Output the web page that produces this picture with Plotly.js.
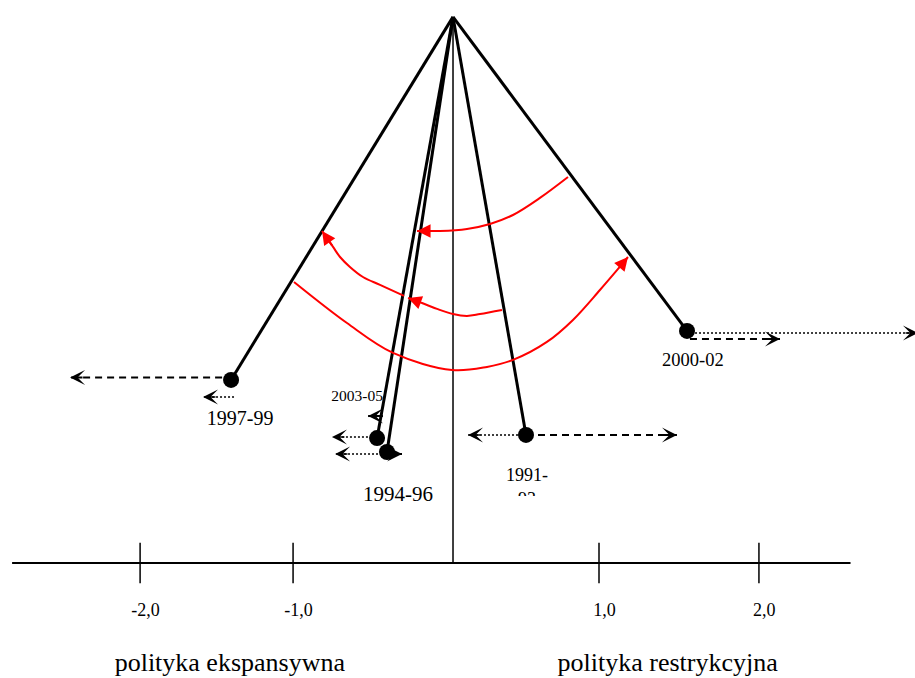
<!DOCTYPE html>
<html><head><meta charset="utf-8">
<script src="https://cdn.plot.ly/plotly-3.0.1.min.js"></script>
<style>html,body{margin:0;padding:0;background:#fff}#chart{width:915px;height:678px}</style>
</head><body><div id="chart"></div>
<script>
// ---------------- data ----------------
const pivotX = 0, pivotY = 3.523;
const periods = ['1997-99', '2003-05', '1994-96', '1991-93', '2000-02'];
const periodLabels = ['1997-99', '2003-05', '1994-96', '1991-<br>93', '2000-02'];
const bobX = [-1.432, -0.490, -0.426, 0.471, 1.510];
const bobY = [1.181, 0.806, 0.716, 0.826, 1.497];

// horizontal arrows: start x, end x, y, line style
const arrowPeriod = ['1997-99', '1997-99', '2003-05', '2003-05', '1994-96', '1994-96', '1991-93', '1991-93', '2000-02', '2000-02'];
const arrowStartX = [-1.490, -1.413, -0.523, -0.452, -0.458, -0.426, 0.471, 0.471, 1.510, 1.529];
const arrowEndX   = [-2.471, -1.613, -0.781, -0.548, -0.761, -0.329, 0.097, 1.445, 3.000, 2.110];
const arrowY      = [1.197, 1.071, 0.813, 0.948, 0.703, 0.703, 0.826, 0.826, 1.484, 1.445];
const arrowStyle  = ['dash', 'dot', 'dot', 'solid', 'dot', 'solid', 'dot', 'dash', 'dot', 'dash'];

// red transition curves
const curve1X = [0.742, 0.561, 0.387, 0.239, 0.090, -0.084, -0.232];
const curve1Y = [2.490, 2.355, 2.245, 2.187, 2.155, 2.142, 2.142];
const curve2X = [0.316, 0.174, 0.090, 0.000, -0.103, -0.200, -0.290];
const curve2Y = [1.632, 1.606, 1.594, 1.606, 1.639, 1.677, 1.710];
const curve3X = [-0.316, -0.471, -0.581, -0.665, -0.729, -0.774, -0.845];
const curve3Y = [1.723, 1.794, 1.845, 1.910, 1.974, 2.039, 2.142];
const curve4X = [-1.026, -0.684, -0.387, -0.006, 0.219, 0.387, 0.606, 0.774, 0.948, 1.065, 1.129];
const curve4Y = [1.813, 1.548, 1.355, 1.245, 1.265, 1.310, 1.426, 1.568, 1.761, 1.897, 1.974];

// axis
const axisStartX = -2.845, axisEndX = 2.565;
const tickPos = [-2.019, -1.032, 0.942, 1.974];
const tickLabels = ['-2,0', '-1,0', '1,0', '2,0'];
const sideLabels = ['polityka ekspansywna', 'polityka restrykcyjna'];
const sideLabelX = [-1.440, 1.385];

// ---------------- presentation ----------------
const FONT = 'Liberation Serif, Times New Roman, serif';
const BLACK = '#000000', RED = '#ff0000';
const labelPlace = {
  '1997-99': {dx: 0.058, dy: -0.258, size: 20},
  '2003-05': {dx: -0.129, dy: 0.265, size: 15.5},
  '1994-96': {dx: 0.071, dy: -0.284, size: 21},
  '2000-02': {dx: 0.038, dy: -0.194, size: 18.5}
};

const traces = [];
const annotations = [];

// horizontal axis line
traces.push({x: [axisStartX, axisEndX], y: [0, 0], mode: 'lines',
  line: {color: BLACK, width: 2}, hoverinfo: 'skip'});
// tick marks crossing the axis
const tx = [], ty = [];
tickPos.forEach(t => { tx.push(t, t, null); ty.push(0.13, -0.13, null); });
traces.push({x: tx, y: ty, mode: 'lines', line: {color: BLACK, width: 1.5}, hoverinfo: 'skip'});
// vertical centre line
traces.push({x: [pivotX, pivotX], y: [0, pivotY], mode: 'lines',
  line: {color: BLACK, width: 1.5}, hoverinfo: 'skip'});
// pendulum rods
const rx = [], ry = [];
bobX.forEach((b, i) => { rx.push(pivotX, b, null); ry.push(pivotY, bobY[i], null); });
traces.push({x: rx, y: ry, mode: 'lines', line: {color: BLACK, width: 3}, hoverinfo: 'skip'});

// red curves with arrowheads
[[curve1X, curve1Y], [curve2X, curve2Y], [curve3X, curve3Y], [curve4X, curve4Y]].forEach(([cx, cy]) => {
  traces.push({x: cx, y: cy, mode: 'lines', line: {color: RED, width: 2, shape: 'spline', smoothing: 1},
    hoverinfo: 'skip'});
  const n = cx.length;
  annotations.push({x: cx[n - 1], y: cy[n - 1], ax: cx[n - 2], ay: cy[n - 2],
    xref: 'x', yref: 'y', axref: 'x', ayref: 'y', text: '', showarrow: true,
    arrowhead: 2, arrowwidth: 2, arrowsize: 1.35, arrowcolor: RED, standoff: 0});
});

// horizontal arrows
const dashMap = {dash: '7px,5px', dot: '2px,2px', solid: 'solid'};
arrowStartX.forEach((x0, i) => {
  const x1 = arrowEndX[i], y = arrowY[i];
  const w = arrowStyle[i] === 'dot' ? 1.5 : 2;
  traces.push({x: [x0, x1], y: [y, y], mode: 'lines',
    line: {color: BLACK, width: w, dash: dashMap[arrowStyle[i]]}, hoverinfo: 'skip'});
  const dir = Math.sign(x1 - x0);
  const back = Math.min(0.09, Math.abs(x1 - x0));
  annotations.push({x: x1, y: y, ax: x1 - dir * back, ay: y,
    xref: 'x', yref: 'y', axref: 'x', ayref: 'y', text: '', showarrow: true,
    arrowhead: 3, arrowwidth: w, arrowsize: 2.5 / w, arrowcolor: BLACK, standoff: 0});
});

// bobs
traces.push({x: bobX, y: bobY, mode: 'markers', marker: {color: BLACK, size: 16},
  text: periods, hoverinfo: 'text'});

// period labels
periods.forEach((p, i) => {
  if (labelPlace[p]) {
    const L = labelPlace[p];
    traces.push({x: [bobX[i] + L.dx], y: [bobY[i] + L.dy], mode: 'text', text: [periodLabels[i]],
      textposition: 'middle center', textfont: {family: FONT, size: L.size, color: BLACK},
      cliponaxis: false, hoverinfo: 'skip'});
  } else {
    // clipped label (on the upper sub-area so its second line is cut off)
    traces.push({x: [bobX[i] + 0.006], y: [bobY[i] - 0.345], mode: 'text', text: [periodLabels[i]],
      textposition: 'middle center', textfont: {family: FONT, size: 18, color: BLACK},
      cliponaxis: true, hoverinfo: 'skip', xaxis: 'x', yaxis: 'y2'});
  }
});

// tick labels
traces.push({x: tickPos.map(t => t + 0.035), y: tickPos.map(() => -0.31), mode: 'text', text: tickLabels,
  textposition: 'middle center', textfont: {family: FONT, size: 18, color: BLACK},
  cliponaxis: false, hoverinfo: 'skip'});
// side labels
traces.push({x: sideLabelX, y: sideLabelX.map(() => -0.655), mode: 'text', text: sideLabels,
  textposition: 'middle center', textfont: {family: FONT, size: 26, color: BLACK},
  cliponaxis: false, hoverinfo: 'skip'});

const layout = {
  width: 915, height: 678,
  margin: {l: 0, r: 0, t: 0, b: 0, pad: 0},
  paper_bgcolor: '#ffffff', plot_bgcolor: 'rgba(0,0,0,0)',
  showlegend: false,
  xaxis: {range: [-2.923, 2.981], visible: false, fixedrange: true},
  yaxis: {range: [-0.742, 3.632], visible: false, fixedrange: true, domain: [0, 1]},
  yaxis2: {range: [0.432, 3.632], visible: false, fixedrange: true, domain: [0.2684, 1], anchor: 'x'},
  annotations: annotations
};

Plotly.newPlot('chart', traces, layout, {displayModeBar: false, staticPlot: true});
</script>
</body></html>
